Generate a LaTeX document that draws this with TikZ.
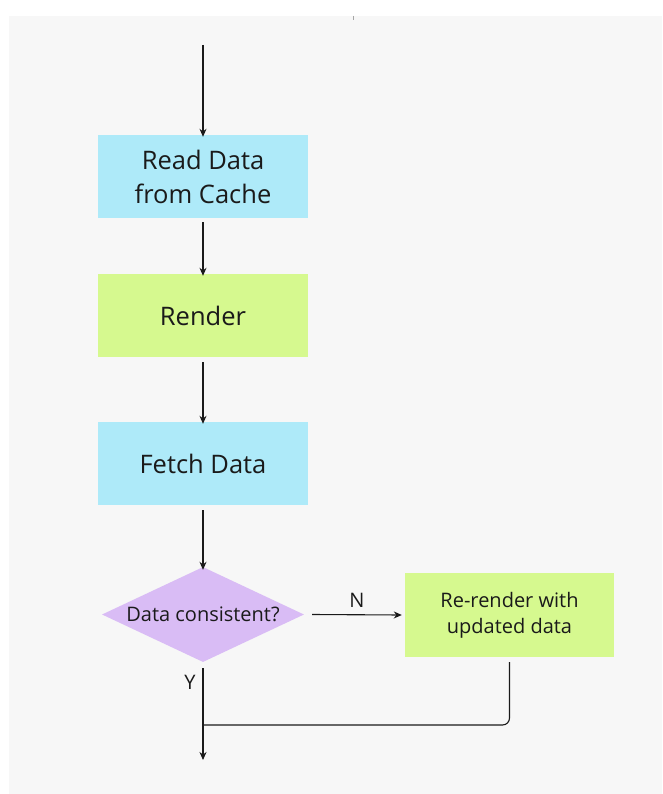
\documentclass[tikz,border=0pt]{standalone}
\usepackage{fontspec}
\setmainfont{Open Sans}
\usetikzlibrary{shapes.geometric,arrows.meta}
\definecolor{panel}{HTML}{F7F7F7}
\definecolor{cachebox}{HTML}{AEEAF9}
\definecolor{renderbox}{HTML}{D6F98F}
\definecolor{checkbox}{HTML}{D9BCF5}
\definecolor{ink}{HTML}{1A1A1A}
\begin{document}
\begin{tikzpicture}[x=1pt,y=-1pt,
  every node/.style={text=ink},
  procbox/.style={draw=none,minimum width=210pt,minimum height=83pt,inner sep=0pt,
    align=center,font=\fontsize{25.5}{34}\selectfont},
  smallbox/.style={draw=none,minimum width=209pt,minimum height=84pt,inner sep=0pt,
    align=center,font=\fontsize{20}{26}\selectfont},
  decision/.style={diamond,draw=none,fill=checkbox,minimum width=202pt,minimum height=95pt,
    inner sep=0pt,aspect=2.1,font=\fontsize{20}{24}\selectfont},
  flow/.style={draw=ink,line width=1.1pt,-{Stealth[length=8pt,width=7pt]}},
  plain/.style={draw=ink,line width=1.1pt},
  lbl/.style={font=\fontsize{20}{24}\selectfont}]
  % canvas
  \useasboundingbox (0,0) rectangle (662,794);
  \fill[white] (0,0) rectangle (662,794);
  \fill[panel] (9,16) rectangle (662,794);
  \draw[gray!70,line width=0.8pt] (353,16) -- (353,20);

  % process steps
  \coordinate (start) at (203,45);
  \node[procbox,fill=cachebox] (read) at (203,176.5) {Read Data\\from Cache};
  \node[procbox,fill=renderbox] (render) at (203,315.5) {Render};
  \node[procbox,fill=cachebox] (fetch) at (203,463.5) {Fetch Data};
  \node[decision] (check) at (203,614.5) {Data consistent?};
  \node[smallbox,fill=renderbox] (rerender) at (509.5,615) {Re-render with\\updated data};
  \coordinate (join) at (203,725);
  \coordinate (finish) at (203,760);

  % connectors
  \draw[flow] (start) -- ([yshift=-2pt]read.north);
  \draw[flow] ([yshift=-4pt]read.south) -- ([yshift=-2pt]render.north);
  \draw[flow] ([yshift=-5pt]render.south) -- ([yshift=-2pt]fetch.north);
  \draw[flow] ([yshift=-5pt]fetch.south) -- ([yshift=-3pt]check.north);
  \draw[flow] ([xshift=8pt]check.east) -- node[lbl,above=3pt] {N} ([xshift=-3pt]rerender.west);
  \draw[flow] ([yshift=-6pt]check.south) -- (finish);
  \node[lbl,anchor=east] (yes) at (199,682) {Y};
  \draw[plain,rounded corners=7pt] ([yshift=-5pt]rerender.south) |- (join);
\end{tikzpicture}
\end{document}
